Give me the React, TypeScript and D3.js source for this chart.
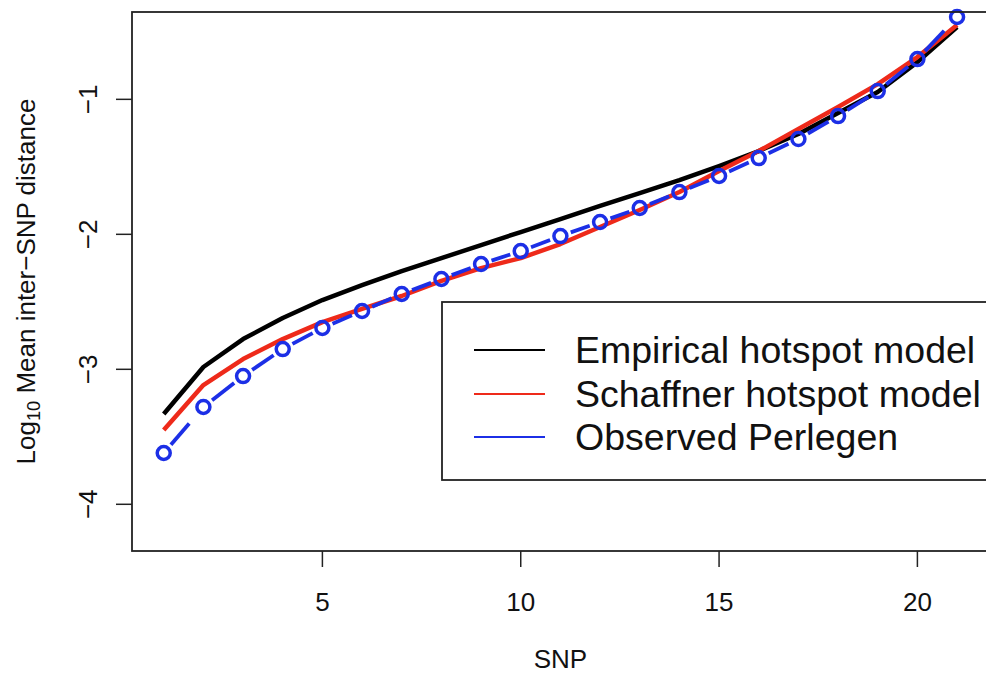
import React from "react";
import * as d3 from "d3";

const snp = d3.range(1, 22);
const empirical = [-3.331, -2.983, -2.776, -2.62, -2.487, -2.376, -2.272, -2.176, -2.08, -1.983, -1.887, -1.79, -1.694, -1.598, -1.494, -1.383, -1.257, -1.101, -0.946, -0.724, -0.464];
const schaffner = [-3.45, -3.117, -2.924, -2.776, -2.65, -2.553, -2.457, -2.345, -2.25, -2.176, -2.072, -1.946, -1.82, -1.687, -1.531, -1.383, -1.22, -1.057, -0.887, -0.687, -0.45];
const observed = [-3.62, -3.279, -3.05, -2.85, -2.694, -2.568, -2.442, -2.331, -2.22, -2.124, -2.013, -1.909, -1.805, -1.687, -1.568, -1.435, -1.294, -1.124, -0.939, -0.702, -0.39];
const xTicks = [5, 10, 15, 20];
const yTicks = [-1, -2, -3, -4];
const legendLabels = ["Empirical hotspot model", "Schaffner hotspot model", "Observed Perlegen"];
const legendColors = ["#000000", "#ee2a1a", "#1c2fe6"];

const W = 986, H = 675;
const FONT = "'Liberation Sans', Arial, Helvetica, sans-serif";

export default function App() {
  const x = d3.scaleLinear().domain([0.2, 21.8]).range([132, 988.8]);
  const y = d3.scaleLinear().domain([-4.346, -0.353]).range([551, 12]);
  const line = d3.line<number>().x((_, i) => x(snp[i])).y((d) => y(d));
  const r = 6.5;
  const gap = 11;
  const segs = observed.slice(1).map((v, i) => {
    const x0 = x(snp[i]), y0 = y(observed[i]);
    const x1 = x(snp[i + 1]), y1 = y(v);
    const dx = x1 - x0, dy = y1 - y0;
    const L = Math.hypot(dx, dy);
    const ux = dx / L, uy = dy / L;
    return { x0: x0 + ux * gap, y0: y0 + uy * gap, x1: x1 - ux * gap, y1: y1 - uy * gap };
  });
  const [xl, xr] = x.range();
  const [yb, yt] = y.range();
  const legX = 442, legY = 302, legRowY = [350, 394, 437];
  const fs = 26;
  return (
    <svg width={W} height={H} style={{ position: "absolute", left: 0, top: 0, background: "#fff" }} fontFamily={FONT}>
      <rect x={0} y={0} width={W} height={H} fill="#fff" />
      <path d={line(empirical) || ""} fill="none" stroke={legendColors[0]} strokeWidth={4.5} strokeLinejoin="round" />
      <path d={line(schaffner) || ""} fill="none" stroke={legendColors[1]} strokeWidth={4.5} strokeLinejoin="round" />
      {segs.map((s, i) => (
        <line key={i} x1={s.x0} y1={s.y0} x2={s.x1} y2={s.y1} stroke={legendColors[2]} strokeWidth={3.8} strokeDasharray="28,14" />
      ))}
      {observed.map((v, i) => (
        <circle key={i} cx={x(snp[i])} cy={y(v)} r={r} fill="none" stroke={legendColors[2]} strokeWidth={3.5} />
      ))}
      <rect x={xl} y={yt} width={xr - xl} height={yb - yt} fill="none" stroke="#222" strokeWidth={1.8} />
      {xTicks.map((t) => (
        <g key={t}>
          <line x1={x(t)} x2={x(t)} y1={yb} y2={yb + 16} stroke="#222" strokeWidth={1.5} />
          <text x={x(t)} y={611} textAnchor="middle" fontSize={fs} fill="#111">{t}</text>
        </g>
      ))}
      {yTicks.map((t) => (
        <g key={t}>
          <line x1={xl - 16} x2={xl} y1={y(t)} y2={y(t)} stroke="#222" strokeWidth={1.5} />
          <text transform={`translate(97,${y(t)}) rotate(-90)`} textAnchor="middle" fontSize={fs} fill="#111">{`\u2212${Math.abs(t)}`}</text>
        </g>
      ))}
      <text x={(xl + xr) / 2} y={668} textAnchor="middle" fontSize={fs} fill="#111">SNP</text>
      <text transform={`translate(35,${(yb + yt) / 2}) rotate(-90)`} textAnchor="middle" fontSize={fs} fill="#111">
        <tspan>Log</tspan>
        <tspan fontSize={fs * 0.7} dy={5}>10</tspan>
        <tspan dy={-5}>{" Mean inter\u2212SNP distance"}</tspan>
      </text>
      <rect x={legX} y={legY} width={600} height={178} fill="#fff" stroke="#222" strokeWidth={1.8} />
      {legendLabels.map((lab, i) => (
        <g key={lab}>
          <line x1={474} x2={545} y1={legRowY[i]} y2={legRowY[i]} stroke={legendColors[i]} strokeWidth={2} />
          <text x={575} y={legRowY[i]} dy="0.35em" fontSize={37.5} fill="#111">{lab}</text>
        </g>
      ))}
    </svg>
  );
}
